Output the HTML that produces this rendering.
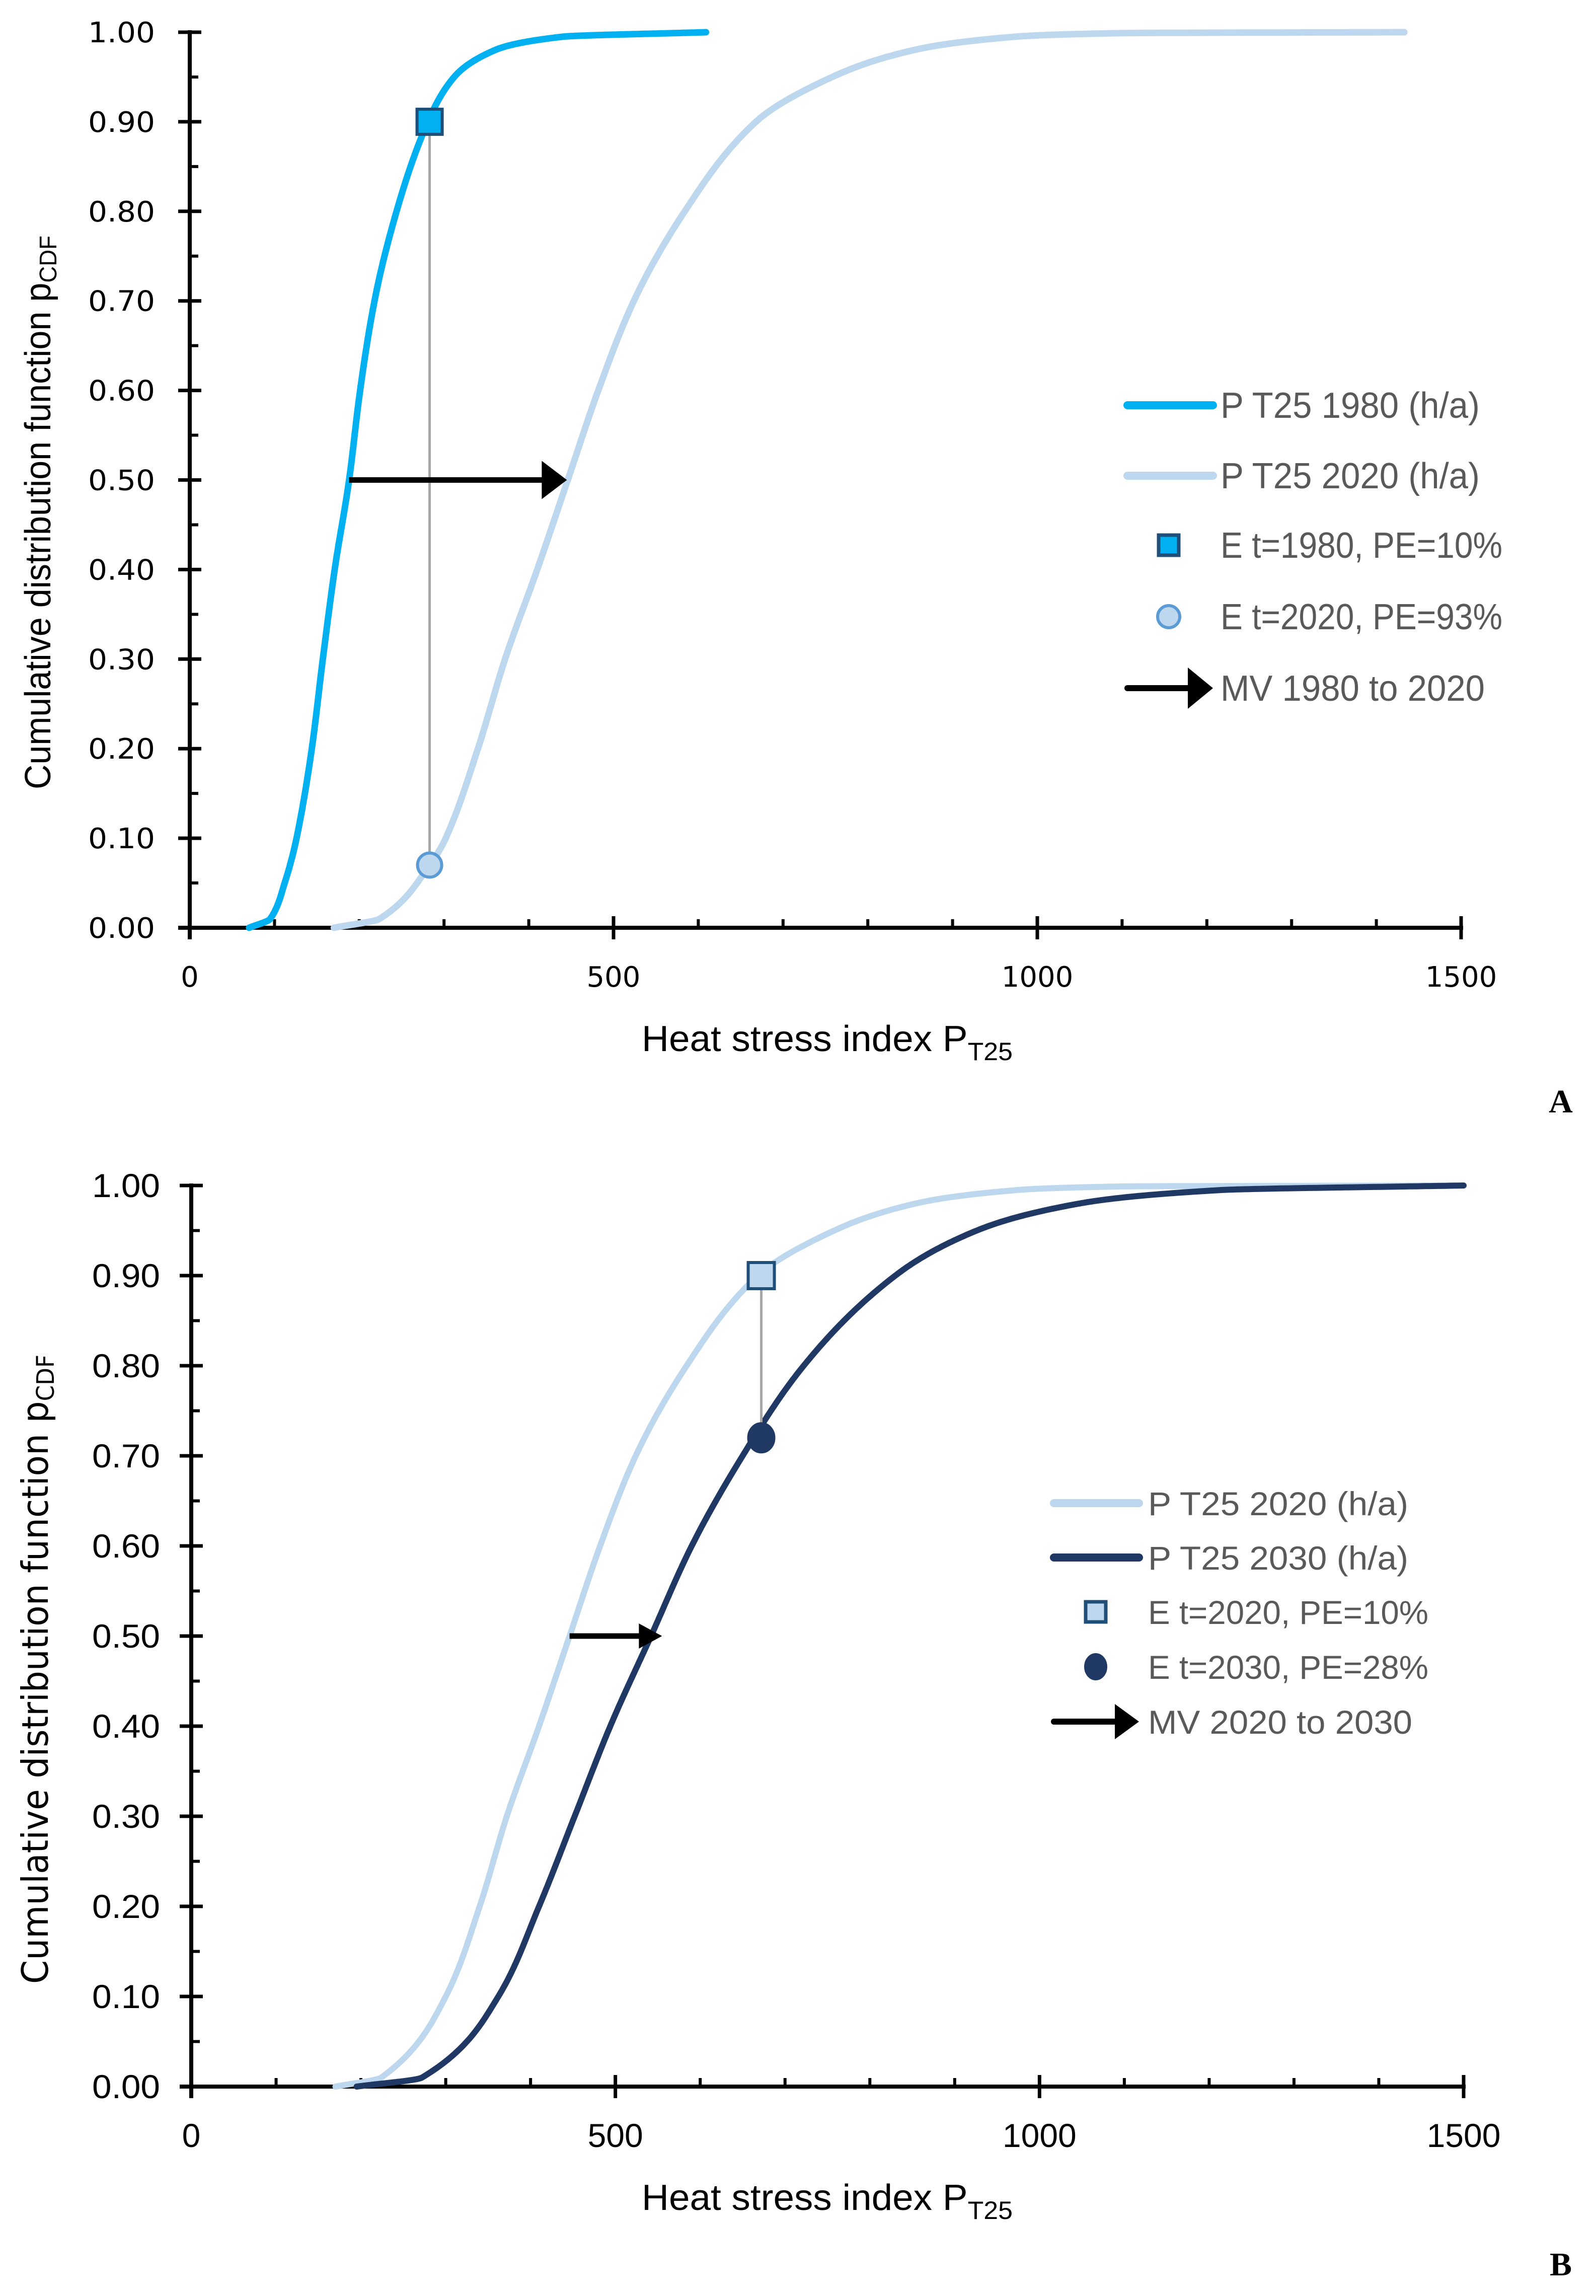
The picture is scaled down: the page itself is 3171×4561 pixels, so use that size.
<!DOCTYPE html>
<html><head><meta charset="utf-8"><style>
html,body{margin:0;padding:0;background:#fff;}
svg{display:block;}
</style></head><body>
<svg id="fig" xmlns="http://www.w3.org/2000/svg" width="3171" height="4561" viewBox="0 0 3171 4561"></svg>
<script>
// ---- Chart A data ----
const a1980X = [70, 95, 112, 126, 144, 157, 171, 188, 201, 218, 244, 281, 312, 360, 440, 609];
const a1980Y = [0, 0.01, 0.05, 0.1, 0.2, 0.3, 0.4, 0.5, 0.6, 0.7, 0.8, 0.9, 0.95, 0.98, 0.995, 1.0];
const a2020X = [170, 224, 283, 302, 340, 372, 410, 446, 482, 524, 584, 668, 758, 854, 974, 1100, 1433];
const a2020Y = [0, 0.01, 0.07, 0.1, 0.2, 0.3, 0.4, 0.5, 0.6, 0.7, 0.8, 0.9, 0.95, 0.98, 0.995, 0.999, 1.0];
const aMarkerX = [283, 283];
const aMarkerY = [0.9, 0.07];
const aArrowX = [188, 445];
const aArrowY = [0.5, 0.5];
// ---- Chart B data ----
const b2020X = [170, 224, 300, 340, 372, 410, 446, 482, 524, 584, 668, 758, 854, 974, 1100, 1500];
const b2020Y = [0, 0.01, 0.1, 0.2, 0.3, 0.4, 0.5, 0.6, 0.7, 0.8, 0.9, 0.95, 0.98, 0.995, 0.999, 1.0];
const b2030X = [195, 272, 362, 410, 452, 494, 542, 590, 650, 722, 830, 926, 1047, 1215, 1500];
const b2030Y = [0, 0.01, 0.1, 0.2, 0.3, 0.4, 0.5, 0.6, 0.7, 0.8, 0.9, 0.95, 0.98, 0.995, 1.0];
const bMarkerX = [672, 672];
const bMarkerY = [0.9, 0.72];
const bArrowX = [446, 555];
const bArrowY = [0.5, 0.5];
// ---- ticks ----
const yTickLabels = ["0.00","0.10","0.20","0.30","0.40","0.50","0.60","0.70","0.80","0.90","1.00"];
const yTickValues = [0,0.1,0.2,0.3,0.4,0.5,0.6,0.7,0.8,0.9,1.0];
const xTickLabels = ["0","500","1000","1500"];
const xTickValues = [0,500,1000,1500];
const xMinorValues = [100,200,300,400,600,700,800,900,1100,1200,1300,1400];

const NS="http://www.w3.org/2000/svg";
const svg=document.getElementById('fig');
function mk(tag,attrs,parent){const e=document.createElementNS(NS,tag);for(const k in attrs)e.setAttribute(k,attrs[k]);(parent||svg).appendChild(e);return e;}

// monotone cubic (Fritsch-Carlson) of x as function of y, sampled densely
function curvePoints(xs,ys){
  const n=xs.length,d=[],m=new Array(n);
  for(let i=0;i<n-1;i++)d.push((xs[i+1]-xs[i])/(ys[i+1]-ys[i]));
  m[0]=d[0];m[n-1]=d[n-2];
  for(let i=1;i<n-1;i++){m[i]=(d[i-1]*d[i]<=0)?0:2/(1/d[i-1]+1/d[i]);}
  const out=[];
  for(let i=0;i<n-1;i++){
    const h=ys[i+1]-ys[i];
    for(let k=0;k<40;k++){
      const t=k/40,t2=t*t,t3=t2*t;
      const x=(2*t3-3*t2+1)*xs[i]+(t3-2*t2+t)*h*m[i]+(-2*t3+3*t2)*xs[i+1]+(t3-t2)*h*m[i+1];
      out.push([x,ys[i]+h*t]);
    }
  }
  out.push([xs[n-1],ys[n-1]]);
  return out;
}

function chart(cfg){
  const g=mk('g',{});
  
  
  const sx=v=>cfg.x0+(cfg.x1-cfg.x0)*v/1500;
  const sy=v=>cfg.y0-(cfg.y0-cfg.y1)*v;
  const tickFont=cfg.tickFont;
  yTickValues.forEach((v,i)=>{
    const t=mk('line',{x1:cfg.x0-23,x2:cfg.x0+23,y1:sy(v),y2:sy(v),stroke:'#000','stroke-width':7},g);
    
    
    if(i<yTickValues.length-1){
      const m=mk('line',{x1:cfg.x0,x2:cfg.x0+17,y1:sy(v+0.05),y2:sy(v+0.05),stroke:'#000','stroke-width':6},g);
      
      
    }
    const lb=mk('text',{x:cfg.yLabR,y:sy(v)+cfg.yLabDy,'text-anchor':'end','font-family':tickFont,'font-size':cfg.tickSize,fill:'#000',textLength:cfg.yLabW,lengthAdjust:'spacingAndGlyphs'},g);
    lb.textContent=yTickLabels[i];
    
    
  });
  xTickValues.forEach((v,i)=>{
    const t=mk('line',{x1:sx(v),x2:sx(v),y1:cfg.y0-23,y2:cfg.y0+23,stroke:'#000','stroke-width':7},g);
    
    
    const lb=mk('text',{x:sx(v),y:cfg.xLabY,'text-anchor':'middle','font-family':tickFont,'font-size':cfg.tickSize,fill:'#000'},g);
    lb.textContent=xTickLabels[i];
    
    
  });
  xMinorValues.forEach(v=>{
    const t=mk('line',{x1:sx(v),x2:sx(v),y1:cfg.y0-17,y2:cfg.y0,stroke:'#000','stroke-width':6},g);
    
    
  });
  const ya=mk('line',{x1:cfg.x0,x2:cfg.x0,y1:cfg.y1-4,y2:cfg.y0+23,stroke:'#000','stroke-width':8},g);
  
  
  const xa=mk('line',{x1:cfg.x0-23,x2:cfg.x1+4,y1:cfg.y0,y2:cfg.y0,stroke:'#000','stroke-width':8},g);
  
  
  const xt=mk('text',{x:cfg.xTitleX,y:cfg.xTitleY,'font-family':'"Liberation Sans Narrow","Liberation Sans",sans-serif','font-size':72,fill:'#000',textLength:cfg.xTitleW,lengthAdjust:'spacingAndGlyphs'},g);
  xt.innerHTML='Heat stress index  P<tspan font-size="50" dy="18">T25</tspan>';
  
  
  const ytg=mk('g',{transform:`translate(${cfg.yTitleX},${cfg.yTitleCY}) rotate(-90)`},g);
  const yt=mk('text',{x:0,y:0,'text-anchor':'middle','font-family':cfg.yTitleFont,'font-size':72,fill:'#000',textLength:cfg.yTitleW,lengthAdjust:'spacingAndGlyphs'},ytg);
  yt.innerHTML='Cumulative distribution function  p<tspan font-size="48" dy="12">CDF</tspan>';
  
  
  cfg.series.forEach(s=>{
    const pts=curvePoints(s.xs,s.ys).map(p=>sx(p[0]).toFixed(1)+','+sy(p[1]).toFixed(1));
    const p=mk('polyline',{points:pts.join(' '),fill:'none',stroke:s.color,'stroke-width':s.w,'stroke-linecap':'round','stroke-linejoin':'round'},g);
    
    
  });
  const c=mk('line',{x1:sx(cfg.mX[0]),x2:sx(cfg.mX[1]),y1:sy(cfg.mY[0]),y2:sy(cfg.mY[1]),stroke:'#A6A6A6','stroke-width':5},g);
  
  
  const ax0=sx(cfg.aX[0]),ax1=sx(cfg.aX[1]),ay=sy(cfg.aY[0]);
  const al=mk('line',{x1:ax0,x2:ax1-cfg.head[0]+2,y1:ay,y2:ay,stroke:'#000','stroke-width':11},g);
  
  
  const ah=mk('polygon',{points:`${ax1},${ay} ${ax1-cfg.head[0]},${ay-cfg.head[1]/2} ${ax1-cfg.head[0]},${ay+cfg.head[1]/2}`,fill:'#000'},g);
  
  
  const sq=cfg.sqSize;
  const m1=mk('rect',{x:sx(cfg.mX[0])-sq/2,y:sy(cfg.mY[0])-sq/2,width:sq,height:sq,fill:cfg.sqFill,stroke:'#1F4E79','stroke-width':6},g);
  
  
  const m2=mk('ellipse',{cx:sx(cfg.mX[1]),cy:sy(cfg.mY[1]),rx:cfg.circ.rx,ry:cfg.circ.ry,fill:cfg.circ.fill,stroke:cfg.circ.stroke,'stroke-width':cfg.circ.sw},g);
  
  
  const L=cfg.legend;
  L.rows.forEach((r,i)=>{
    const y=L.ys[i];
    const lg=mk('g',{},g);
    
    
    if(r.type==='line'){mk('line',{x1:L.lx0,x2:L.lx1,y1:y,y2:y,stroke:r.color,'stroke-width':r.w,'stroke-linecap':'round'},lg);}
    else if(r.type==='sq'){mk('rect',{x:L.mx-20,y:y-20,width:40,height:40,fill:r.fill,stroke:'#1F4E79','stroke-width':7},lg);}
    else if(r.type==='circ'){mk('ellipse',{cx:L.mx,cy:y,rx:r.rx,ry:r.ry,fill:r.fill,stroke:r.stroke,'stroke-width':r.sw},lg);}
    else if(r.type==='arrow'){mk('line',{x1:L.lx0,x2:L.lx1-40,y1:y,y2:y,stroke:'#000','stroke-width':12,'stroke-linecap':'round'},lg);
      mk('polygon',{points:`${L.lx1},${y} ${L.lx1-L.ah[0]},${y-L.ah[1]/2} ${L.lx1-L.ah[0]},${y+L.ah[1]/2}`,fill:'#000'},lg);}
    const t=mk('text',{x:L.tx,y:y+L.tdy,'font-family':'"Liberation Sans Narrow","Liberation Sans",sans-serif','font-size':L.fs,fill:'#595959',textLength:r.tw,lengthAdjust:'spacingAndGlyphs'},lg);
    t.textContent=r.text;
  });
  const pl=mk('text',{x:3101,y:cfg.letterY,'text-anchor':'middle','font-family':'"Liberation Serif",serif','font-weight':'bold','font-size':66,fill:'#000'},g);
  pl.textContent=cfg.letter;
  
  
}

chart({name:'chart-a',x0:377,x1:2903,y0:1843,y1:64,
  tickFont:'"DejaVu Sans",sans-serif',tickSize:56,yLabR:308,yLabDy:20,yLabW:133,xLabY:1960,
  xTitleX:1275,xTitleY:2088,xTitleW:737,
  yTitleX:100,yTitleCY:1018,yTitleW:1100,yTitleFont:'"Liberation Sans Narrow","Liberation Sans",sans-serif',
  series:[{name:'series-1980',xs:a1980X,ys:a1980Y,color:'#00B0F0',w:13},{name:'series-2020',xs:a2020X,ys:a2020Y,color:'#BDD7EE',w:13}],
  mX:aMarkerX,mY:aMarkerY,aX:aArrowX,aY:aArrowY,head:[50,76],
  sqSize:50,sqFill:'#00B0F0',circ:{rx:24,ry:24,fill:'#BDD7EE',stroke:'#5B9BD5',sw:6},
  legend:{lx0:2240,lx1:2410,tx:2425,mx:2322,tdy:25,fs:72,ah:[50,82],ys:[805,945,1083,1225,1367],
    rows:[{type:'line',color:'#00B0F0',w:16,text:'P T25  1980 (h/a)',tw:515},
          {type:'line',color:'#BDD7EE',w:16,text:'P T25  2020 (h/a)',tw:515},
          {type:'sq',fill:'#00B0F0',text:'E t=1980,  PE=10%',tw:560},
          {type:'circ',rx:22,ry:22,fill:'#BDD7EE',stroke:'#5B9BD5',sw:6,text:'E t=2020,  PE=93%',tw:560},
          {type:'arrow',text:'MV 1980 to 2020',tw:525}]},
  letter:'A',letterY:2210});

chart({name:'chart-b',x0:380,x1:2908,y0:4145,y1:2355,
  tickFont:'"Liberation Sans Narrow","Liberation Sans",sans-serif',tickSize:66,yLabR:318,yLabDy:23,yLabW:135,xLabY:4265,
  xTitleX:1275,xTitleY:4390,xTitleW:737,
  yTitleX:95,yTitleCY:3316,yTitleW:1250,yTitleFont:'"DejaVu Sans",sans-serif',
  series:[{name:'series-2020',xs:b2020X,ys:b2020Y,color:'#BDD7EE',w:12},{name:'series-2030',xs:b2030X,ys:b2030Y,color:'#1F3864',w:12}],
  mX:bMarkerX,mY:bMarkerY,aX:bArrowX,aY:bArrowY,head:[46,50],
  sqSize:52,sqFill:'#BDD7EE',circ:{rx:27,ry:30,fill:'#1F3864',stroke:'#1F3864',sw:2},
  legend:{lx0:2094,lx1:2263,tx:2281,mx:2177,tdy:24,fs:66,ah:[48,70],ys:[2986,3094,3202,3311,3420],
    rows:[{type:'line',color:'#BDD7EE',w:16,text:'P T25  2020 (h/a)',tw:517},
          {type:'line',color:'#1F3864',w:16,text:'P T25  2030 (h/a)',tw:517},
          {type:'sq',fill:'#BDD7EE',text:'E t=2020,  PE=10%',tw:557},
          {type:'circ',rx:22,ry:26,fill:'#1F3864',stroke:'#1F3864',sw:2,text:'E t=2030,  PE=28%',tw:557},
          {type:'arrow',text:'MV 2020 to 2030',tw:525}]},
  letter:'B',letterY:4520});
</script>
</body></html>
